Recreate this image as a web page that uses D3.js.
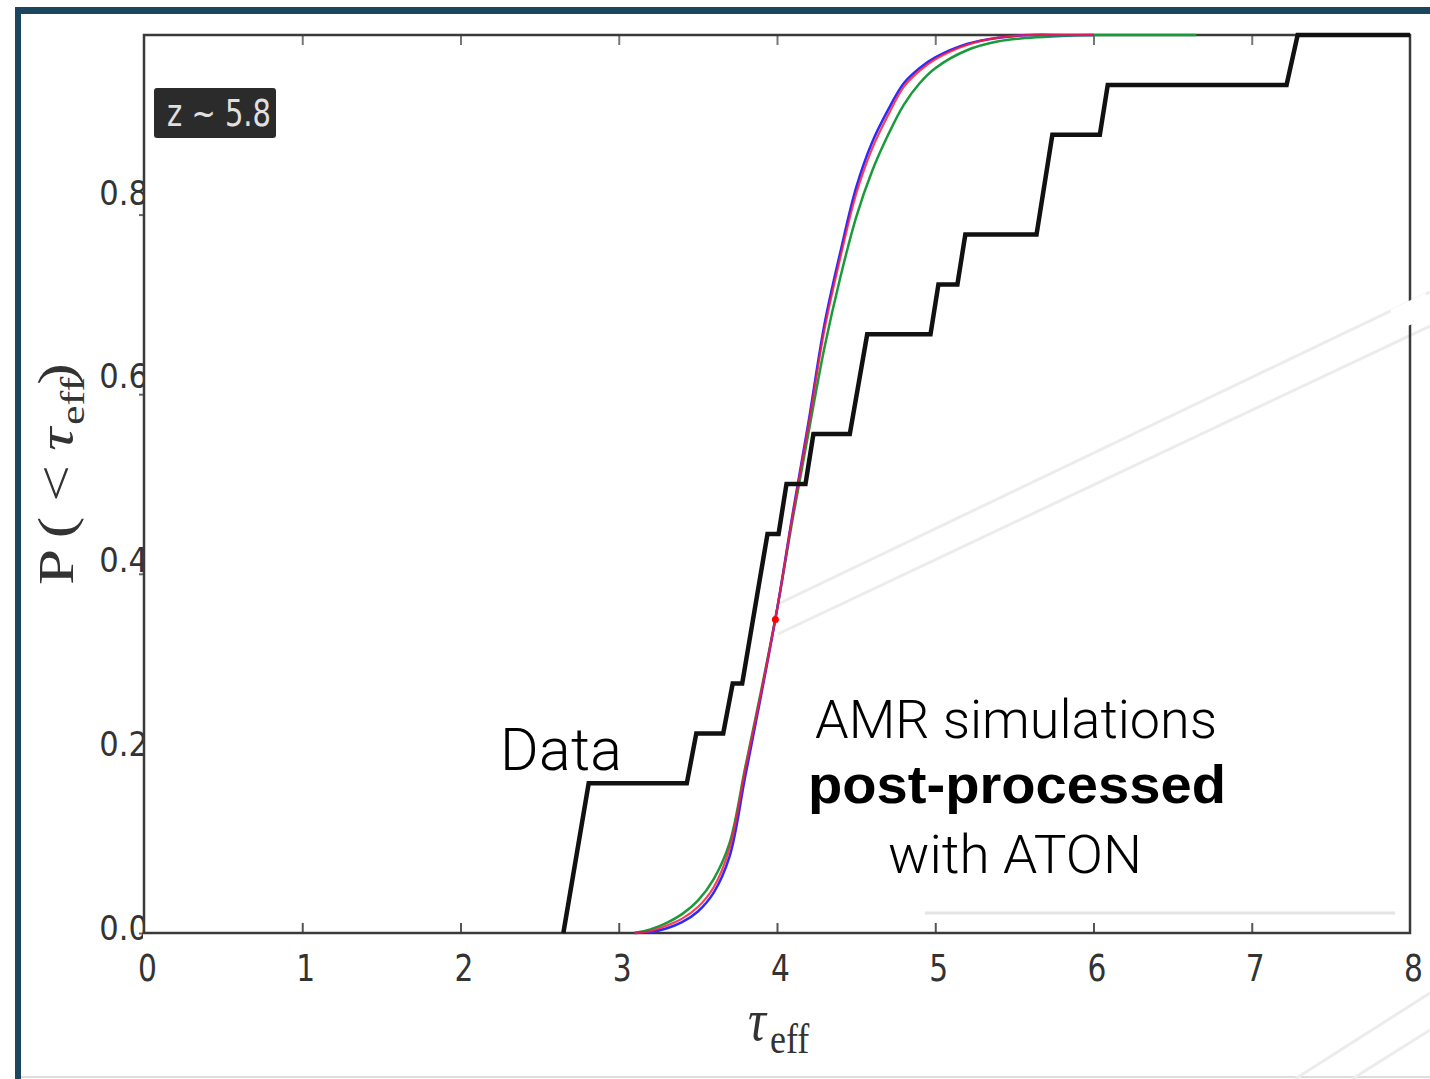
<!DOCTYPE html>
<html>
<head>
<meta charset="utf-8">
<script src="https://cdn.jsdelivr.net/npm/d3@7"></script>
<style>
  body { margin: 0; background: #fff; }
  svg { display: block; }
  .tick-label { font-family: "DejaVu Sans Condensed", "DejaVu Sans", sans-serif; fill: #333; }
  .note { font-family: Roboto, "Liberation Sans", sans-serif; fill: #000; }
</style>
</head>
<body>
<div id="chart"></div>
<script>
// cumulative distribution of tau_eff at z ~ 5.8
const xTicks = [0, 1, 2, 3, 4, 5, 6, 7, 8];
const yTicks = [0, 0.2, 0.4, 0.6, 0.8];
const yTickLabels = ['0.0', '0.2', '0.4', '0.6', '0.8'];

// observed sightlines (18), traced as the drawn polyline [tau, P]
const dataSteps = [
  [2.65, 0], [2.81, 3/18], [3.43, 3/18], [3.49, 4/18], [3.66, 4/18],
  [3.72, 5/18], [3.78, 5/18], [3.94, 8/18], [4.01, 8/18], [4.06, 9/18],
  [4.18, 9/18], [4.23, 10/18], [4.46, 10/18], [4.57, 12/18], [4.97, 12/18],
  [5.02, 13/18], [5.14, 13/18], [5.19, 14/18], [5.64, 14/18], [5.74, 16/18],
  [6.04, 16/18], [6.09, 17/18], [7.22, 17/18], [7.29, 1], [8.0, 1]
];

// AMR simulations post-processed with ATON
const simTau = [3.1, 3.2, 3.3, 3.4, 3.5, 3.6, 3.7, 3.8, 3.9, 4.0, 4.1, 4.2, 4.3, 4.4, 4.5,
  4.6, 4.7, 4.8, 4.9, 5.0, 5.2, 5.4, 5.6, 5.8, 6.0, 6.3, 6.65];
const simBlue = [0, 0.001, 0.005, 0.012, 0.024, 0.045, 0.085, 0.175, 0.265, 0.36, 0.468, 0.57,
  0.678, 0.758, 0.83, 0.88, 0.916, 0.946, 0.963, 0.975, 0.99, 0.997, 1, 1, 1, null, null];
const simRed = [0, 0.002, 0.008, 0.016, 0.029, 0.051, 0.094, 0.183, 0.268, 0.36, 0.466, 0.566,
  0.672, 0.752, 0.823, 0.873, 0.91, 0.942, 0.96, 0.973, 0.989, 0.997, 1, 1, 1, null, null];
const simGreen = [0, 0.004, 0.011, 0.021, 0.036, 0.06, 0.1, 0.185, 0.27, 0.36, 0.462, 0.558,
  0.652, 0.73, 0.797, 0.848, 0.888, 0.922, 0.946, 0.963, 0.983, 0.993, 0.997, 0.999, 1, 1, 1];

const marker = [3.99, 0.349];

const W = 1430, H = 1079;
const svg = d3.select('#chart').append('svg').attr('width', W).attr('height', H);

const x = d3.scaleLinear().domain([0, 8]).range([144, 1410]);
const y = d3.scaleLinear().domain([0, 1]).range([933, 35]);
// tick labels in the picture sit on a slightly different spacing than the ticks
const yLabel = d3.scaleLinear().domain([0, 0.8]).range([928, 193]);

// slide frame
svg.append('rect').attr('x', 15).attr('y', 7).attr('width', W - 15).attr('height', 7).attr('fill', '#1b4660');
svg.append('rect').attr('x', 15).attr('y', 7).attr('width', 6).attr('height', H - 7).attr('fill', '#1b4660');
svg.append('line').attr('x1', 21).attr('x2', W).attr('y1', 1077).attr('y2', 1077)
  .attr('stroke', '#ddd').attr('stroke-width', 2);

// faint slide artefacts
const faint = svg.append('g').attr('stroke', '#ececec').attr('stroke-width', 3).attr('fill', 'none');
faint.append('line').attr('x1', 778).attr('y1', 604).attr('x2', 1430).attr('y2', 292);
faint.append('line').attr('x1', 778).attr('y1', 634).attr('x2', 1430).attr('y2', 326);
faint.append('line').attr('x1', 925).attr('y1', 913).attr('x2', 1395).attr('y2', 913).attr('stroke', '#e4e4e4');
faint.append('line').attr('x1', 1295).attr('y1', 1079).attr('x2', 1430).attr('y2', 993);
faint.append('line').attr('x1', 1352).attr('y1', 1079).attr('x2', 1430).attr('y2', 1030);

// clip for y labels (they are cut by the spine)
svg.append('clipPath').attr('id', 'ylab').append('rect')
  .attr('x', 0).attr('y', 0).attr('width', 143).attr('height', H);

// bottom axis
const gx = svg.append('g').attr('transform', `translate(0,${y(0)})`)
  .call(d3.axisBottom(x).tickValues(xTicks).tickSize(-10).tickPadding(14).tickFormat(d3.format('d')));
gx.select('.domain').remove();
gx.selectAll('.tick line').attr('stroke', '#555').attr('stroke-width', 2)
  .filter(d => d === 0 || d === 8).remove();
gx.selectAll('.tick text').attr('class', 'tick-label').attr('font-size', 33)
  .attr('dx', 3).attr('transform', 'scale(1,1.15)').attr('y', 18);

// top ticks
const gt = svg.append('g').attr('transform', `translate(0,${y(1)})`)
  .call(d3.axisTop(x).tickValues(xTicks.slice(1, -1)).tickSize(-10).tickFormat(''));
gt.select('.domain').remove();
gt.selectAll('.tick line').attr('stroke', '#777').attr('stroke-width', 2);

// left axis (wrapped so the clip works in page coordinates)
const gyWrap = svg.append('g').attr('clip-path', 'url(#ylab)');
const gy = gyWrap.append('g').attr('transform', `translate(${x(0)},0)`)
  .call(d3.axisLeft(y).tickValues(yTicks).tickSize(5).tickPadding(-9)
    .tickFormat((d, i) => yTickLabels[i]));
gy.select('.domain').remove();
gy.selectAll('.tick line').attr('stroke', '#666').attr('stroke-width', 2);
gy.selectAll('.tick text').attr('class', 'tick-label').attr('font-size', 34)
  .attr('dy', d => (yLabel(d) - y(d)) + 11);

// spines
svg.append('rect').attr('x', x(0)).attr('y', y(1)).attr('width', x(8) - x(0)).attr('height', y(0) - y(1))
  .attr('fill', 'none').attr('stroke', '#3a3a3a').attr('stroke-width', 2.5);
// break in the right spine where the white streak crosses
svg.append('line').attr('x1', 1395).attr('y1', 320).attr('x2', 1430).attr('y2', 303)
  .attr('stroke', '#fff').attr('stroke-width', 22);

// simulation curves
const simLine = vals => d3.line()
  .defined((d, i) => vals[i] !== null)
  .x(d => x(d))
  .y((d, i) => y(vals[i]))
  .curve(d3.curveCatmullRom.alpha(0.5))(simTau);

svg.append('path').attr('d', simLine(simGreen)).attr('fill', 'none')
  .attr('stroke', '#1a9a3a').attr('stroke-width', 2.5);
svg.append('path').attr('d', simLine(simBlue)).attr('fill', 'none')
  .attr('stroke', '#2b2bff').attr('stroke-width', 2.5);
svg.append('path').attr('d', simLine(simRed)).attr('fill', 'none')
  .attr('stroke', '#ff1a3c').attr('stroke-width', 2.2).attr('stroke-opacity', 0.85);

// data
svg.append('path')
  .attr('d', d3.line().x(d => x(d[0])).y(d => y(d[1]))(dataSteps))
  .attr('fill', 'none').attr('stroke', '#111').attr('stroke-width', 4.5)
  .attr('stroke-linejoin', 'miter');

svg.append('circle').attr('cx', x(marker[0])).attr('cy', y(marker[1])).attr('r', 3.5).attr('fill', '#f00');

// redshift box
svg.append('rect').attr('x', 154).attr('y', 88).attr('width', 122).attr('height', 50).attr('rx', 3)
  .attr('fill', '#2b2b2b');
svg.append('text').attr('x', 167).attr('y', 126).attr('class', 'tick-label')
  .attr('font-size', 38).attr('textLength', 104).attr('lengthAdjust', 'spacingAndGlyphs')
  .style('fill', '#e0e0e0').text('z ~ 5.8');

// y axis title: P( < tau_eff )
const yt = svg.append('g').attr('transform', 'translate(73,585) rotate(-90) scale(1.3,1)')
  .attr('font-family', '"Liberation Serif", "DejaVu Serif", serif').attr('fill', '#333');
yt.append('text').attr('x', 0).attr('font-size', 50).text('P');
yt.append('text').attr('x', 36).attr('font-size', 50).text('(');
yt.append('text').attr('x', 64).attr('font-size', 50).text('<');
yt.append('text').attr('x', 103).attr('font-size', 50).attr('font-style', 'italic').text('τ');
yt.append('text').attr('x', 123).attr('y', 11).attr('font-size', 34).text('eff');
yt.append('text').attr('x', 154).attr('font-size', 50).text(')');

// x axis title: tau_eff
const xt = svg.append('g').attr('transform', 'translate(748,1040) scale(1,1.2)')
  .attr('font-family', '"Liberation Serif", "DejaVu Serif", serif').attr('fill', '#333');
xt.append('text').attr('x', 0).attr('font-size', 50).attr('font-style', 'italic').text('τ');
xt.append('text').attr('x', 22).attr('y', 11).attr('font-size', 36).text('eff');

// annotations
svg.append('text').attr('class', 'note').attr('x', 500).attr('y', 770)
  .attr('font-size', 59).attr('font-weight', 300).attr('textLength', 122).text('Data');
const notes = svg.append('g').attr('class', 'note').attr('text-anchor', 'middle');
notes.append('text').attr('x', 1016).attr('y', 738).attr('font-size', 53).attr('font-weight', 300)
  .attr('textLength', 402).attr('lengthAdjust', 'spacingAndGlyphs').text('AMR simulations');
notes.append('text').attr('x', 1017).attr('y', 803).attr('font-size', 54).attr('font-weight', 700)
  .attr('font-family', '"Liberation Sans", Arial, sans-serif')
  .attr('textLength', 418).attr('lengthAdjust', 'spacingAndGlyphs').text('post-processed');
notes.append('text').attr('x', 1015).attr('y', 873).attr('font-size', 53).attr('font-weight', 300)
  .attr('textLength', 254).attr('lengthAdjust', 'spacingAndGlyphs').text('with ATON');
</script>
</body>
</html>
